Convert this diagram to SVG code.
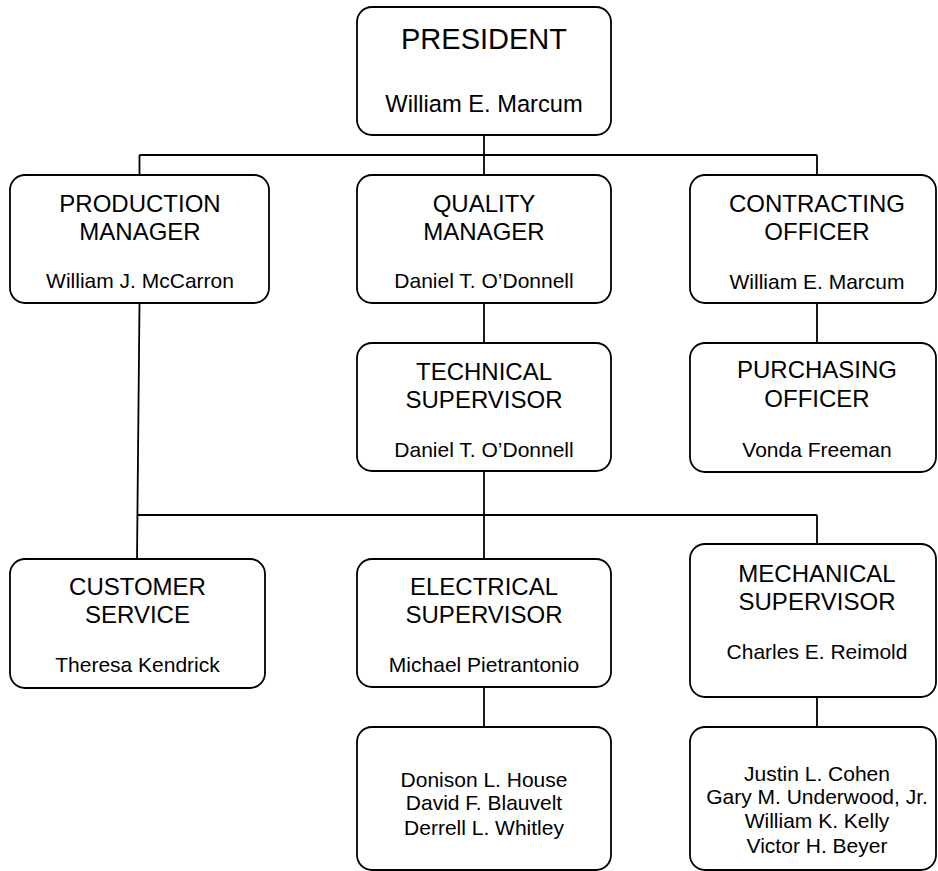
<svg xmlns="http://www.w3.org/2000/svg" width="938" height="871" viewBox="0 0 938 871">
<style>
.box{fill:#fff;stroke:#000;stroke-width:1.8}
.ln{stroke:#000;stroke-width:1.8;fill:none}
text{font-family:"Liberation Sans",Arial,sans-serif;fill:#000;text-anchor:middle}
.t{font-size:24px}
.n{font-size:21px}
</style>
<rect width="938" height="871" fill="#fff"/>
<g id="connectors">
<line class="ln" x1="484" y1="135" x2="484" y2="175"/>
<line class="ln" x1="139.5" y1="155" x2="817" y2="155"/>
<line class="ln" x1="139.5" y1="155" x2="139.5" y2="175"/>
<line class="ln" x1="817" y1="155" x2="817" y2="175"/>
<line class="ln" x1="484" y1="303" x2="484" y2="343"/>
<line class="ln" x1="817" y1="303" x2="817" y2="343"/>
<line class="ln" x1="139.5" y1="303" x2="137" y2="559"/>
<line class="ln" x1="137" y1="515" x2="817" y2="515"/>
<line class="ln" x1="484" y1="471" x2="484" y2="559"/>
<line class="ln" x1="817" y1="515" x2="817" y2="544"/>
<line class="ln" x1="484" y1="687" x2="484" y2="727"/>
<line class="ln" x1="817" y1="697" x2="817" y2="727"/>
</g>
<g id="president">
<rect class="box" x="357" y="7" width="254" height="128" rx="15"/>
<text x="484" y="49" style="font-size:29px">PRESIDENT</text>
<text x="484" y="112" style="font-size:23.7px">William E. Marcum</text>
</g>
<g id="production">
<rect class="box" x="10" y="175" width="259" height="128" rx="15"/>
<text class="t" x="140" y="212">PRODUCTION</text>
<text class="t" x="140" y="240">MANAGER</text>
<text class="n" x="140" y="288">William J. McCarron</text>
</g>
<g id="quality">
<rect class="box" x="357" y="175" width="254" height="128" rx="15"/>
<text class="t" x="484" y="212">QUALITY</text>
<text class="t" x="484" y="240">MANAGER</text>
<text class="n" x="484" y="288">Daniel T. O’Donnell</text>
</g>
<g id="contracting">
<rect class="box" x="690" y="175" width="246" height="128" rx="15"/>
<text class="t" x="817" y="212">CONTRACTING</text>
<text class="t" x="817" y="240">OFFICER</text>
<text class="n" x="817" y="289">William E. Marcum</text>
</g>
<g id="technical">
<rect class="box" x="357" y="343" width="254" height="128" rx="15"/>
<text class="t" x="484" y="380">TECHNICAL</text>
<text class="t" x="484" y="408">SUPERVISOR</text>
<text class="n" x="484" y="457">Daniel T. O’Donnell</text>
</g>
<g id="purchasing">
<rect class="box" x="690" y="343" width="246" height="129" rx="15"/>
<text class="t" x="817" y="378">PURCHASING</text>
<text class="t" x="817" y="407">OFFICER</text>
<text class="n" x="817" y="457">Vonda Freeman</text>
</g>
<g id="customer">
<rect class="box" x="10" y="559" width="255" height="129" rx="15"/>
<text class="t" x="137.5" y="595">CUSTOMER</text>
<text class="t" x="137.5" y="623">SERVICE</text>
<text class="n" x="137.5" y="672">Theresa Kendrick</text>
</g>
<g id="electrical">
<rect class="box" x="357" y="559" width="254" height="128" rx="15"/>
<text class="t" x="484" y="595">ELECTRICAL</text>
<text class="t" x="484" y="623">SUPERVISOR</text>
<text class="n" x="484" y="672">Michael Pietrantonio</text>
</g>
<g id="mechanical">
<rect class="box" x="690" y="544" width="246" height="153" rx="15"/>
<text class="t" x="817" y="582">MECHANICAL</text>
<text class="t" x="817" y="610">SUPERVISOR</text>
<text class="n" x="817" y="659">Charles E. Reimold</text>
</g>
<g id="electrical-team">
<rect class="box" x="357" y="727" width="254" height="143" rx="15"/>
<text class="n" x="484" y="787">Donison L. House</text>
<text class="n" x="484" y="810">David F. Blauvelt</text>
<text class="n" x="484" y="835">Derrell L. Whitley</text>
</g>
<g id="mechanical-team">
<rect class="box" x="690" y="727" width="246" height="143" rx="15"/>
<text class="n" x="817" y="781">Justin L. Cohen</text>
<text class="n" x="817" y="804">Gary M. Underwood, Jr.</text>
<text class="n" x="817" y="828">William K. Kelly</text>
<text class="n" x="817" y="853">Victor H. Beyer</text>
</g>
</svg>
